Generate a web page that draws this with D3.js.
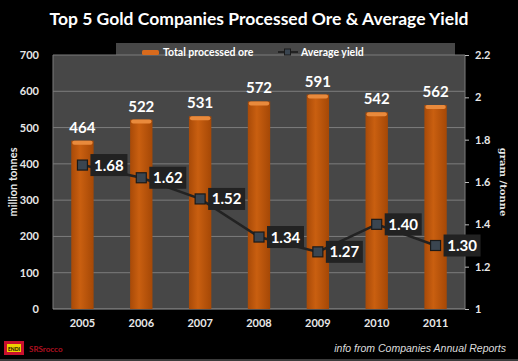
<!DOCTYPE html>
<html><head><meta charset="utf-8">
<script src="https://cdn.jsdelivr.net/npm/d3@7/dist/d3.min.js"></script>
<style>body{margin:0;background:#000;}svg{display:block;}</style>
</head><body>
<script>
const years = ["2005","2006","2007","2008","2009","2010","2011"];
const ore = [464,522,531,572,591,542,562];
const yieldVals = [1.68,1.62,1.52,1.34,1.27,1.40,1.30];
const leftTicks = [0,100,200,300,400,500,600,700];
const rightTicks = [1,1.2,1.4,1.6,1.8,2,2.2];

const W=518,H=361;
const svg=d3.select("body").append("svg").attr("width",W).attr("height",H);
const font="Lato, 'Open Sans', sans-serif";
svg.append("rect").attr("width",W).attr("height",H).attr("fill","#000");

const L=53,R=465,T=55,B=309;
const x=d3.scaleBand().domain(years).range([L,R]).paddingInner(0.62).paddingOuter(0.31);
const yL=d3.scaleLinear().domain([0,700]).range([B,T]);
const yR=d3.scaleLinear().domain([1,2.2]).range([B,T]);

const defs=svg.append("defs");
const g1=defs.append("linearGradient").attr("id","bar").attr("x1","0").attr("x2","1");
g1.append("stop").attr("offset","0").attr("stop-color","#a84a08");
g1.append("stop").attr("offset","0.4").attr("stop-color","#c95f10");
g1.append("stop").attr("offset","1").attr("stop-color","#a54806");

// plot background
svg.append("rect").attr("x",L).attr("y",T).attr("width",R-L).attr("height",B-T).attr("fill","#474747");
// legend box
svg.append("rect").attr("x",116).attr("y",43).attr("width",339).attr("height",20).attr("fill","#474747");

// gridlines
svg.append("g").selectAll("line").data(leftTicks.filter(d=>d>0)).join("line")
  .attr("x1",L).attr("x2",R).attr("y1",d=>yL(d)).attr("y2",d=>yL(d))
  .attr("stroke","#7d7d7d").attr("stroke-width",1);
svg.append("line").attr("x1",R).attr("x2",R).attr("y1",T).attr("y2",B).attr("stroke","#7d7d7d");
svg.append("line").attr("x1",L).attr("x2",L).attr("y1",T).attr("y2",B).attr("stroke","#7d7d7d");
svg.append("line").attr("x1",L).attr("x2",R).attr("y1",B).attr("y2",B).attr("stroke","#9a9a9a");

// axes
const axL=svg.append("g").attr("transform",`translate(${L},0)`)
  .call(d3.axisLeft(yL).tickValues(leftTicks).tickSize(0).tickPadding(14));
const axR=svg.append("g").attr("transform",`translate(${R},0)`)
  .call(d3.axisRight(yR).tickValues(rightTicks).tickFormat(d3.format("~g")).tickSize(4).tickPadding(6));
const axB=svg.append("g").attr("transform",`translate(0,${B})`)
  .call(d3.axisBottom(x).tickSize(0).tickPadding(10));
[axL,axR,axB].forEach(a=>{
  a.select(".domain").remove();
  a.selectAll("line").attr("stroke","#bbb");
  a.selectAll("text").attr("fill","#e8e8e8").attr("font-family",font).attr("font-weight","bold").attr("font-size",11);
});

// bars
svg.append("g").selectAll("rect").data(ore).join("rect")
  .attr("x",(d,i)=>x(years[i])).attr("width",x.bandwidth())
  .attr("y",d=>yL(d)).attr("height",d=>B-yL(d))
  .attr("fill","url(#bar)");
svg.append("g").selectAll("rect").data(ore).join("rect")
  .attr("x",(d,i)=>x(years[i])+1).attr("width",x.bandwidth()-2)
  .attr("y",d=>yL(d)).attr("height",4).attr("rx",2)
  .attr("fill","#e98a3c");
svg.append("g").selectAll("text").data(ore).join("text")
  .attr("x",(d,i)=>x(years[i])+x.bandwidth()/2).attr("y",d=>yL(d)-8)
  .attr("text-anchor","middle").attr("fill","#fff").attr("font-family",font)
  .attr("font-weight","bold").attr("font-size",15).text(d=>d);

// line
const cx=i=>x(years[i])+x.bandwidth()/2;
const line=d3.line().x((d,i)=>cx(i)).y(d=>yR(d));
svg.append("path").datum(yieldVals).attr("d",line).attr("fill","none").attr("stroke","#222").attr("stroke-width",2.5);
svg.append("g").selectAll("rect").data(yieldVals).join("rect")
  .attr("x",(d,i)=>cx(i)-5).attr("y",d=>yR(d)-5).attr("width",10).attr("height",10)
  .attr("fill","#3a4550").attr("stroke","#1a1a1a").attr("stroke-width",1.2);
const lab=svg.append("g").selectAll("g").data(yieldVals).join("g")
  .attr("transform",(d,i)=>`translate(${cx(i)+8},${yR(d)})`);
lab.append("rect").attr("x",0).attr("y",-11).attr("width",37).attr("height",22).attr("fill","#222");
lab.append("text").attr("x",18.5).attr("y",5.5).attr("text-anchor","middle").attr("fill","#fff")
  .attr("font-family",font).attr("font-weight","bold").attr("font-size",15).text(d=>d.toFixed(2));

// legend
const lg=svg.append("g");
lg.append("rect").attr("x",142).attr("y",50).attr("width",17).attr("height",5).attr("rx",1.5).attr("fill","#d86a1c");
lg.append("text").attr("x",163).attr("y",56).attr("fill","#fff").attr("font-family",font).attr("font-weight","bold").attr("font-size",10.5).text("Total processed ore");
lg.append("line").attr("x1",278).attr("x2",298).attr("y1",52).attr("y2",52).attr("stroke","#222").attr("stroke-width",2);
lg.append("rect").attr("x",284.5).attr("y",49).attr("width",6).attr("height",6).attr("fill","#3a4550").attr("stroke","#1a1a1a");
lg.append("text").attr("x",301).attr("y",56).attr("fill","#fff").attr("font-family",font).attr("font-weight","bold").attr("font-size",10.5).text("Average yield");

// titles
svg.append("text").attr("x",259).attr("y",25).attr("text-anchor","middle").attr("fill","#fff")
  .attr("font-family",font).attr("font-weight","bold").attr("font-size",17.5)
  .text("Top 5 Gold Companies Processed Ore & Average Yield");
svg.append("text").attr("transform","translate(17,182) rotate(-90)").attr("text-anchor","middle")
  .attr("fill","#e8e8e8").attr("font-family",font).attr("font-weight","bold").attr("font-size",11).text("million tonnes");
svg.append("text").attr("transform","translate(500,182) rotate(90)").attr("text-anchor","middle")
  .attr("fill","#e8e8e8").attr("font-family","'DejaVu Serif', serif").attr("font-weight","bold").attr("font-size",10).text("gram /tonne");

// footer
svg.append("text").attr("x",506).attr("y",352).attr("text-anchor","end").attr("fill","#ddd")
  .attr("font-family","'Liberation Sans', Arial, sans-serif").attr("font-style","italic").attr("font-size",10.5)
  .text("info from  Companies Annual Reports");
svg.append("rect").attr("x",4).attr("y",341).attr("width",20).attr("height",14).attr("fill","#c8102e");
svg.append("rect").attr("x",7).attr("y",344).attr("width",14).attr("height",8).attr("fill","#f0d000");
svg.append("text").attr("x",14).attr("y",351).attr("text-anchor","middle").attr("fill","#000").attr("font-family",font).attr("font-weight","bold").attr("font-size",5).text("ENDI");
svg.append("text").attr("x",29).attr("y",352).attr("fill","#b01020").attr("font-family",font).attr("font-weight","bold").attr("font-size",8).text("SRSrocco");
svg.append("line").attr("x1",0).attr("x2",W).attr("y1",360).attr("y2",360).attr("stroke","#777");
</script>
</body></html>
